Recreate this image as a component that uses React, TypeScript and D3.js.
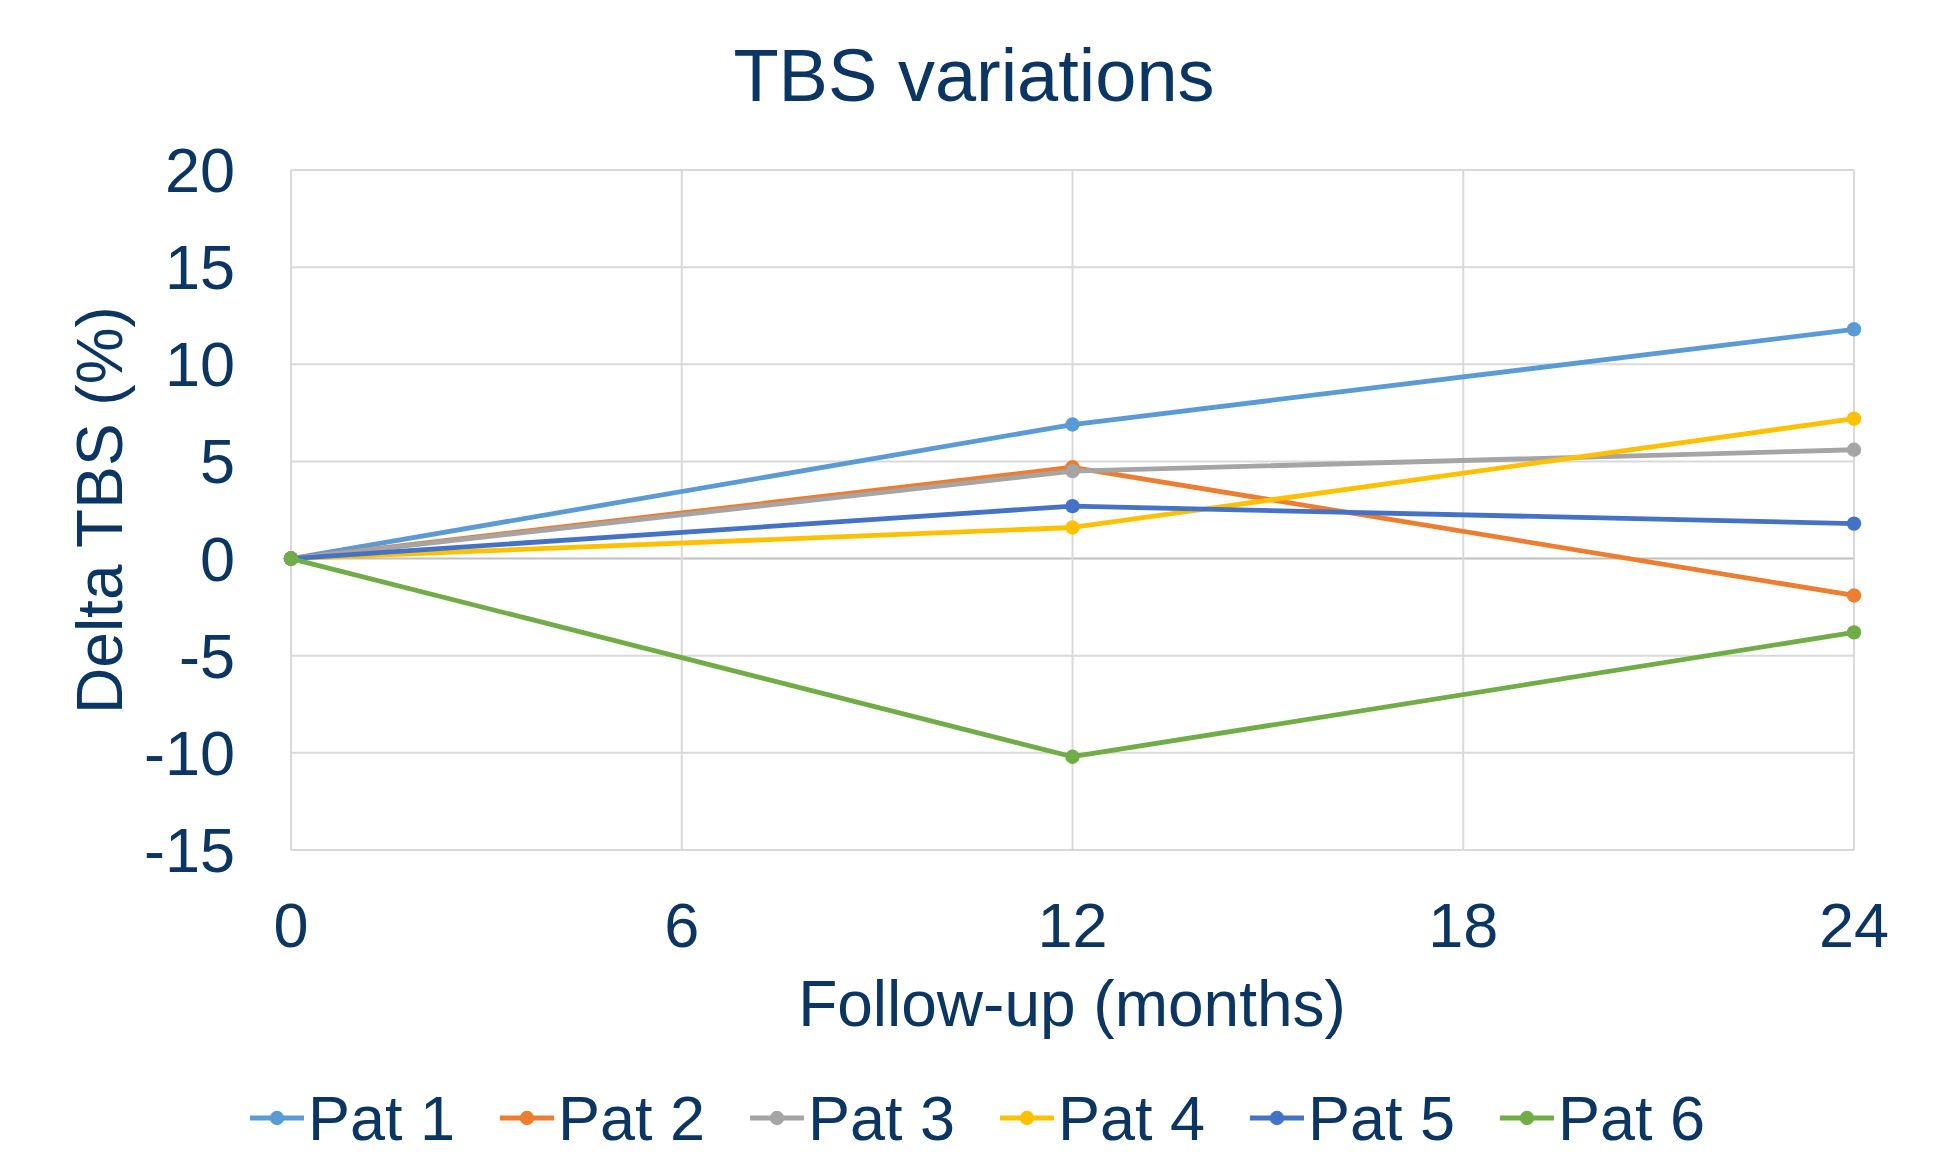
import React from "react";
import * as d3 from "d3";

const months = [0, 12, 24];
const seriesNames = ["Pat 1", "Pat 2", "Pat 3", "Pat 4", "Pat 5", "Pat 6"];
const pat1 = [0, 6.9, 11.8];
const pat2 = [0, 4.7, -1.9];
const pat3 = [0, 4.5, 5.6];
const pat4 = [0, 1.6, 7.2];
const pat5 = [0, 2.7, 1.8];
const pat6 = [0, -10.2, -3.8];
const seriesColors = ["#5B9BD5", "#ED7D31", "#A5A5A5", "#FFC000", "#4472C4", "#70AD47"];
const xTicks = [0, 6, 12, 18, 24];
const yTicks = [-15, -10, -5, 0, 5, 10, 15, 20];

const W = 1943;
const H = 1152;
const TEXT = "#0B3563";
const FONT = "'Liberation Sans', Arial, sans-serif";

export default function App() {
  const allSeries = [pat1, pat2, pat3, pat4, pat5, pat6];
  const x = d3.scaleLinear().domain([0, 24]).range([291, 1854]);
  const y = d3.scaleLinear().domain([-15, 20]).range([850, 170]);

  const line = d3
    .line<number>()
    .x((_, i) => x(months[i]))
    .y((d) => y(d));

  return (
    <svg
      width={W}
      height={H}
      style={{ position: "absolute", left: 0, top: 0, background: "#fff" }}
      fontFamily={FONT}
    >
      <text x={974} y={101} textAnchor="middle" fontSize={74} fill={TEXT}>
        TBS variations
      </text>

      {/* gridlines */}
      {yTicks.map((t) => (
        <line
          key={"gy" + t}
          x1={x(0)}
          x2={x(24)}
          y1={y(t)}
          y2={y(t)}
          stroke={t === 0 ? "#BFBFBF" : "#D9D9D9"}
          strokeWidth={2}
        />
      ))}
      {xTicks.map((t) => (
        <line
          key={"gx" + t}
          x1={x(t)}
          x2={x(t)}
          y1={y(20)}
          y2={y(-15)}
          stroke="#D9D9D9"
          strokeWidth={2}
        />
      ))}

      {/* y tick labels */}
      {yTicks.map((t) => (
        <text
          key={"ly" + t}
          x={235}
          y={y(t)}
          dy="0.35em"
          textAnchor="end"
          fontSize={63}
          fill={TEXT}
        >
          {t}
        </text>
      ))}
      {/* x tick labels */}
      {xTicks.map((t) => (
        <text
          key={"lx" + t}
          x={x(t)}
          y={947}
          textAnchor="middle"
          fontSize={63}
          fill={TEXT}
        >
          {t}
        </text>
      ))}

      <text x={1072} y={1026} textAnchor="middle" fontSize={64} fill={TEXT}>
        Follow-up (months)
      </text>
      <text
        transform={`translate(122,510) rotate(-90)`}
        textAnchor="middle"
        fontSize={64}
        fill={TEXT}
      >
        Delta TBS (%)
      </text>

      {/* series */}
      {allSeries.map((s, si) => (
        <g key={seriesNames[si]}>
          <path
            d={line(s) ?? ""}
            fill="none"
            stroke={seriesColors[si]}
            strokeWidth={4.8}
            strokeLinejoin="round"
          />
          {s.map((v, i) => (
            <circle
              key={i}
              cx={x(months[i])}
              cy={y(v)}
              r={7.2}
              fill={seriesColors[si]}
            />
          ))}
        </g>
      ))}

      {/* legend */}
      {seriesNames.map((name, i) => {
        const x0 = 250 + i * 250;
        const cy = 1118;
        return (
          <g key={"lg" + name}>
            <line
              x1={x0}
              x2={x0 + 54}
              y1={cy}
              y2={cy}
              stroke={seriesColors[i]}
              strokeWidth={4.8}
            />
            <circle cx={x0 + 27} cy={cy} r={7.2} fill={seriesColors[i]} />
            <text x={x0 + 58} y={cy} dy="0.35em" fontSize={63} fill={TEXT}>
              {name}
            </text>
          </g>
        );
      })}
    </svg>
  );
}
